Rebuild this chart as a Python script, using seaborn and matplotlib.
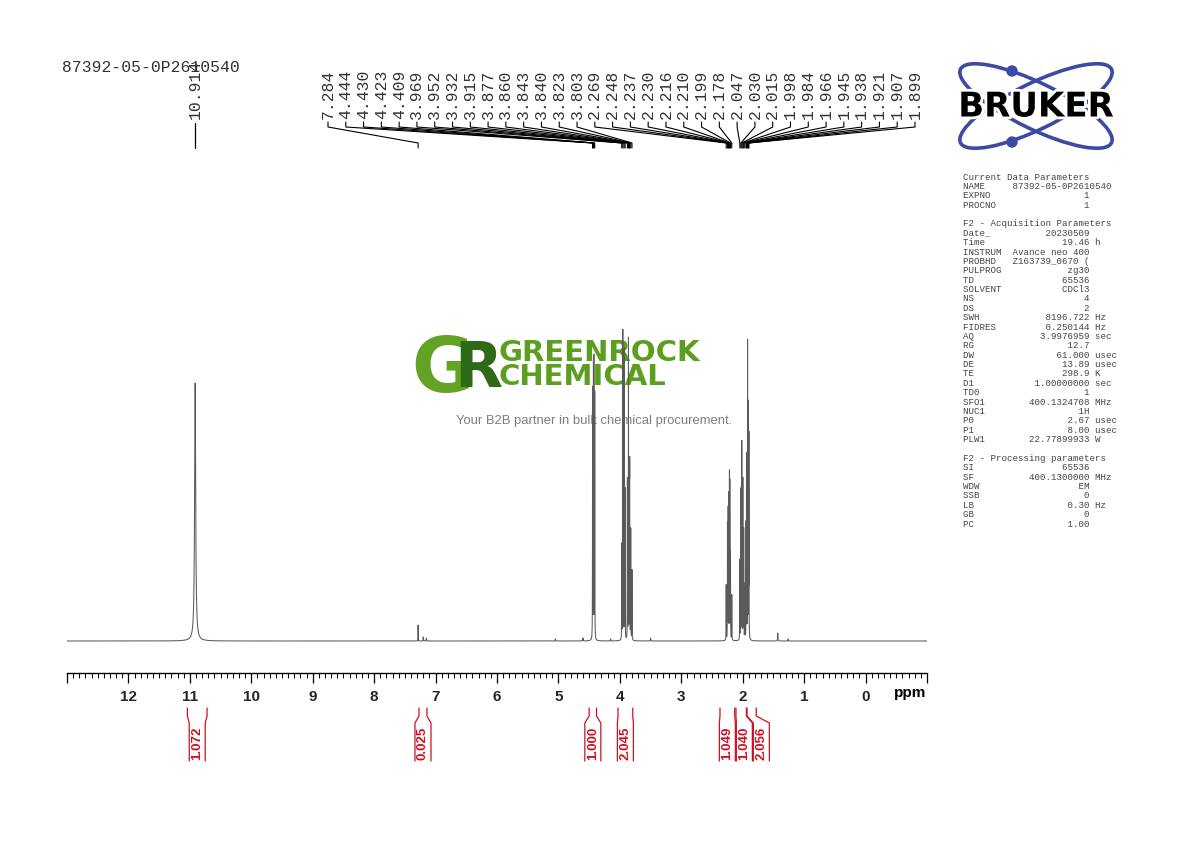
import numpy as np
import pandas as pd
import matplotlib
matplotlib.use("Agg")
import matplotlib.pyplot as plt
import seaborn as sns
from matplotlib.ticker import MultipleLocator, FuncFormatter
from matplotlib.patches import Ellipse, Circle
import matplotlib.patheffects as pe

# ---------------- data ----------------
sample_name = "87392-05-0P2610540"

# labelled peaks (ppm) and their read-off heights (intensity units)
label_ppm = [7.284, 4.444, 4.430, 4.423, 4.409, 3.969, 3.952, 3.932, 3.915,
             3.877, 3.860, 3.843, 3.840, 3.823, 3.803, 2.269, 2.248, 2.237,
             2.230, 2.216, 2.210, 2.199, 2.178, 2.047, 2.030, 2.015, 1.998,
             1.984, 1.966, 1.945, 1.938, 1.921, 1.907, 1.899]
label_height = [16, 250, 268, 271, 245, 95, 309, 290, 150,
                160, 300, 150, 150, 110, 70, 55, 115, 125,
                140, 159, 150, 85, 45, 80, 150, 197, 160,
                110, 55, 110, 180, 296, 230, 200]

# isolated acid peak (labelled separately)
acid_ppm = 10.914
acid_height = 258
acid_hwhm = 0.010

# small unlabelled signals
minor_ppm = [7.20, 7.15, 5.05, 4.60, 4.15, 3.50, 1.43, 1.26]
minor_height = [4, 3, 2, 3, 2, 3, 8, 2]

line_hwhm = 0.0015

# integrals: start, end (ppm) and value
int_start = [11.04, 7.27, 4.50, 4.03, 2.37, 2.11, 1.93]
int_end = [10.72, 7.14, 4.38, 3.79, 2.13, 1.94, 1.78]
int_value = ["1.072", "0.025", "1.000", "2.045", "1.049", "1.040", "2.056"]

# acquisition / processing parameters
params = [
    ("Current Data Parameters", None, None),
    ("NAME     87392-05-0P2610540", None, None),
    ("EXPNO", "1", ""),
    ("PROCNO", "1", ""),
    ("", None, None),
    ("F2 - Acquisition Parameters", None, None),
    ("Date_", "20230509", ""),
    ("Time", "19.46", "h"),
    ("INSTRUM", "Avance neo 400", ""),
    ("PROBHD", "Z163739_0670 (", ""),
    ("PULPROG", "zg30", ""),
    ("TD", "65536", ""),
    ("SOLVENT", "CDCl3", ""),
    ("NS", "4", ""),
    ("DS", "2", ""),
    ("SWH", "8196.722", "Hz"),
    ("FIDRES", "0.250144", "Hz"),
    ("AQ", "3.9976959", "sec"),
    ("RG", "12.7", ""),
    ("DW", "61.000", "usec"),
    ("DE", "13.89", "usec"),
    ("TE", "298.9", "K"),
    ("D1", "1.00000000", "sec"),
    ("TD0", "1", ""),
    ("SFO1", "400.1324708", "MHz"),
    ("NUC1", "1H", ""),
    ("P0", "2.67", "usec"),
    ("P1", "8.00", "usec"),
    ("PLW1", "22.77899933", "W"),
    ("", None, None),
    ("F2 - Processing parameters", None, None),
    ("SI", "65536", ""),
    ("SF", "400.1300000", "MHz"),
    ("WDW", "EM", ""),
    ("SSB", "0", ""),
    ("LB", "0.30", "Hz"),
    ("GB", "0", ""),
    ("PC", "1.00", ""),
]

# ---------------- spectrum ----------------
ppm = np.linspace(13.0, -1.0, 280001)
inten = np.zeros_like(ppm)
def lor(x0, h, w):
    return h * w**2 / ((ppm - x0) ** 2 + w**2)
inten += lor(acid_ppm, acid_height, acid_hwhm)
for p, h in zip(label_ppm, label_height):
    inten += lor(p, h, line_hwhm)
for p, h in zip(minor_ppm, minor_height):
    inten += lor(p, h, 0.003)
df = pd.DataFrame({"ppm": ppm, "intensity": inten})

# ---------------- figure ----------------
sns.set_theme(style="white")
plt.rcParams["font.family"] = ["Liberation Sans", "DejaVu Sans"]

W, H = 1190, 842
fig = plt.figure(figsize=(W / 100, H / 100), dpi=100)

bg = fig.add_axes([0, 0, 1, 1], zorder=0)
bg.set_xlim(0, W)
bg.set_ylim(H, 0)
bg.axis("off")

ax_l, ax_r, ax_t, ax_b = 67, 927, 150, 673
ax = fig.add_axes([ax_l / W, 1 - ax_b / H, (ax_r - ax_l) / W, (ax_b - ax_t) / H], zorder=1)
ax.patch.set_alpha(0)
sns.lineplot(data=df, x="ppm", y="intensity", ax=ax, color="#5a5a5a",
             linewidth=0.75, estimator=None, sort=False)
ax.set_xlim(13.0, -1.0)
ax.set_ylim(-32, 491)
ax.set_xlabel("")
ax.set_ylabel("")
ax.set_yticks([])
for s in ["top", "left", "right"]:
    ax.spines[s].set_visible(False)
ax.spines["bottom"].set_color("black")
ax.spines["bottom"].set_linewidth(1.0)
ax.xaxis.set_major_locator(MultipleLocator(1))
ax.xaxis.set_minor_locator(MultipleLocator(0.1))
ax.xaxis.set_major_formatter(FuncFormatter(
    lambda v, p: "" if (v > 12.5 or v < -0.5) else str(int(round(v)))))
ax.tick_params(axis="x", which="major", direction="out", length=7, width=0.9,
               color="black", pad=5, labelsize=11, bottom=True)
ax.tick_params(axis="x", which="minor", direction="out", length=3.5, width=0.7,
               color="black", bottom=True)
for t in ax.get_xticklabels():
    t.set_fontweight("bold")
fig.text(910 / W, 1 - 693 / H, "ppm", ha="center", va="center",
         fontsize=11, fontweight="bold", color="black")

def px(p):
    return ax.transData.transform((p, 0))[0]

# ---------------- title ----------------
bg.text(62, 68, sample_name, family="Liberation Mono", fontsize=11.8,
        color="#333333", ha="left", va="center")

# ---------------- peak labels ----------------
mono = "Liberation Mono"
ax_x = px(acid_ppm)
bg.text(ax_x, 119, f"{acid_ppm:.3f}", rotation=90, ha="center", va="bottom",
        family=mono, fontsize=11.8, color="#333333")
bg.plot([ax_x, ax_x], [123, 148], color="black", lw=0.9)

label_x = np.linspace(328, 915, len(label_ppm))
for lx, p in zip(label_x, label_ppm):
    bg.text(lx, 119, f"{p:.3f}", rotation=90, ha="center", va="bottom",
            family=mono, fontsize=11.8, color="#333333")
    pxx = px(p)
    bg.plot([lx, lx, pxx, pxx], [122, 127, 143, 148], color="black", lw=0.8)

# ---------------- integrals ----------------
red = "#d01020"
centers = []
for a, b in zip(int_start, int_end):
    c = (px(a) + px(b)) / 2
    if centers and c < centers[-1] + 17:
        c = centers[-1] + 17
    centers.append(c)
for a, b, v, c in zip(int_start, int_end, int_value, centers):
    xa, xb = px(a), px(b)
    bg.plot([xa, xa, c - 8, c - 8], [708, 716, 723, 761], color=red, lw=0.9)
    bg.plot([xb, xb, c + 8, c + 8], [708, 716, 723, 761], color=red, lw=0.9)
    bg.text(c, 760, v, rotation=90, ha="center", va="bottom", fontsize=9.5,
            fontweight="bold", color=red)

# ---------------- parameter block ----------------
y0, dy = 177, 9.38
for i, (name, val, unit) in enumerate(params):
    if val is None:
        line = name
    else:
        line = f"{name:<8}{val:>15}" + (f" {unit}" if unit else "")
    bg.text(963, y0 + i * dy, line, family=mono, fontsize=6.6, color="#444444",
            ha="left", va="center")

# ---------------- Bruker logo ----------------
blue = "#3b4aa4"
for ang in (26, -26):
    bg.add_patch(Ellipse((1036, 106), 168, 46, angle=ang, fill=False,
                         ec=blue, lw=2.6))
bg.add_patch(Circle((1012, 71), 5, color=blue))
bg.add_patch(Circle((1012, 142), 5, color=blue))
bg.text(1036, 107, "BRUKER", family="DejaVu Sans", fontweight="bold",
        fontsize=24.5, color="black", ha="center", va="center",
        path_effects=[pe.withStroke(linewidth=4, foreground="white")])

# ---------------- GreenRock watermark ----------------
bg.text(411, 371, "G", family="DejaVu Sans", fontweight="bold", fontsize=55,
        color="#62a326", ha="left", va="center")
bg.text(454, 370, "R", family="DejaVu Sans", fontweight="bold", fontsize=45,
        color="#2f6a16", ha="left", va="center")
bg.text(499, 353, "GREENROCK", family="DejaVu Sans", fontweight="bold",
        fontsize=21, color="#5c9e1f", ha="left", va="center")
bg.text(499, 377, "CHEMICAL", family="DejaVu Sans", fontweight="bold",
        fontsize=21, color="#5c9e1f", ha="left", va="center")
bg.text(594, 421, "Your B2B partner in bulk chemical procurement.",
        fontsize=9.4, color="#7f7f7f", ha="center", va="center")

fig.savefig("out.png", dpi=100)
